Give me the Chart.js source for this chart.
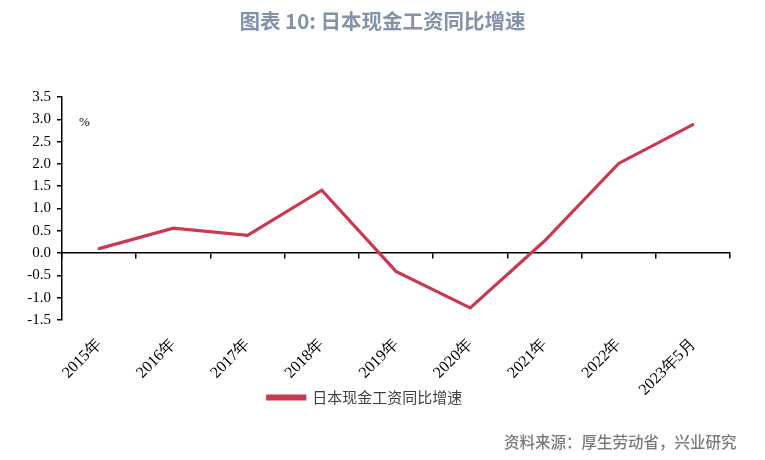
<!DOCTYPE html>
<html>
<head>
<meta charset="utf-8">
<script src="https://cdn.jsdelivr.net/npm/chart.js@4.4.0/dist/chart.umd.min.js"></script>
<style>
  html, body { margin: 0; padding: 0; background: #fff; }
  #wrap { position: relative; width: 765px; height: 460px; }
  #title { position: absolute; left: 0; top: 5px; width: 765px; text-align: center;
    font: bold 20.5px "Noto Sans CJK SC", sans-serif; color: #8192aa; }
  #source { position: absolute; left: 504px; top: 430px;
    font: 500 15.5px "Noto Sans CJK SC", sans-serif; color: #7a7a7a; }
  #unit { position: absolute; left: 79px; top: 114px; font: 13px "Liberation Serif", serif; color: #000; }
</style>
</head>
<body>
<div id="wrap">
  <div id="title">图表 10: 日本现金工资同比增速</div>
  <canvas id="c" width="765" height="460"></canvas>
  <div id="unit">%</div>
  <div id="source">资料来源：厚生劳动省，兴业研究</div>
</div>
<script>
// data
const categories = ['2015年', '2016年', '2017年', '2018年', '2019年', '2020年', '2021年', '2022年', '2023年5月'];
const wageGrowth = [0.10, 0.56, 0.40, 1.41, -0.41, -1.23, 0.27, 2.01, 2.88];
const seriesName = '日本现金工资同比增速';
const yTicks = { min: -1.5, max: 3.5, step: 0.5 };

const red = '#c93a50';
const serif = '"Liberation Serif", "Times New Roman", serif';

new Chart(document.getElementById('c'), {
  type: 'line',
  data: {
    labels: categories,
    datasets: [{
      label: seriesName,
      data: wageGrowth,
      borderColor: red,
      backgroundColor: red,
      borderWidth: 3.2,
      borderCapStyle: 'round',
      pointRadius: 0,
      tension: 0,
      xAxisID: 'x'
    }]
  },
  options: {
    responsive: false,
    animation: false,
    layout: { padding: { top: 97, right: 35, left: 0, bottom: 45 } },
    plugins: {
      title: { display: false },
      tooltip: { enabled: false },
      legend: {
        position: 'bottom',
        labels: {
          boxWidth: 37, boxHeight: 3, padding: 10,
          color: '#404040',
          font: { family: '"Noto Sans CJK SC", sans-serif', size: 15 }
        }
      }
    },
    scales: {
      x: {
        type: 'category',
        offset: true,
        grid: { display: false },
        border: { display: false },
        ticks: {
          minRotation: 45, maxRotation: 45, color: '#000', padding: 7,
          font: { family: serif, size: 16 }
        },
        afterFit: s => { s.height = 60; }
      },
      x2: {
        type: 'category',
        position: { y: 0 },
        offset: true,
        grid: { offset: true, drawOnChartArea: false, tickLength: 5, color: '#000', lineWidth: 1.5 },
        border: { display: true, color: '#000', width: 1.5 },
        ticks: { display: false }
      },
      y: {
        min: yTicks.min, max: yTicks.max,
        grid: { drawOnChartArea: false, tickLength: 5, color: '#000', lineWidth: 1.5 },
        border: { display: true, color: '#000', width: 1.5 },
        ticks: {
          stepSize: yTicks.step, color: '#000', padding: 6,
          font: { family: serif, size: 15 },
          callback: v => Number(v).toFixed(1)
        },
        afterFit: s => { s.width = 62; }
      }
    }
  },
  plugins: [{
    // labels are drawn inside the scale box; let the long last label spill below it
    id: 'noLabelClip',
    beforeDraw: chart => { chart.scales.x._computeLabelArea = () => undefined; }
  }]
});
</script>
</body>
</html>
